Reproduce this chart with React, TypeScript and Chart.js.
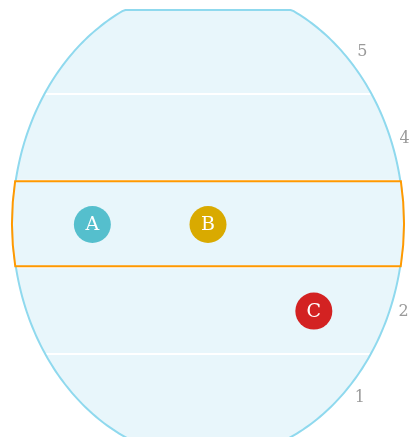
import React, { useEffect, useRef } from "react";
import { Chart, registerables } from "chart.js";

Chart.register(...registerables);

const pointNames = ["A", "B", "C"];
const xValues = [20.5, 50, 77];
const yValues = [3, 3, 2];
const pointColors = ["#55bfcd", "#d9aa00", "#d32222"];
const yTickValues = [1, 2, 3, 4, 5];
const yTickLabels = ["1", "2", "3", "4", "5"];
const gridValues = [1.5, 2.5, 3.5, 4.5];
const bandRange = [2.5, 3.5];

const FILL = "#e8f6fb";
const STROKE = "#8fd9ee";
const BAND = "#ff9900";
const TICK = "#9a9a9a";
const FONT = "'DejaVu Serif', serif";

function geom(chart: any) {
  const a = chart.chartArea;
  const cx = (a.left + a.right) / 2;
  const cy = (a.top + a.bottom) / 2 - 1.2;
  const rx = (a.right - a.left) / 2 - 0.5;
  const ry = 236;
  const clipTop = a.top + 2;
  const clipBottom = a.bottom;
  return { a, cx, cy, rx, ry, clipTop, clipBottom };
}

function shapePath(ctx: CanvasRenderingContext2D, g: any) {
  const n = 360;
  ctx.beginPath();
  for (let i = 0; i <= n; i++) {
    const t = (i / n) * Math.PI * 2;
    const x = g.cx + g.rx * Math.cos(t);
    let y = g.cy + g.ry * Math.sin(t);
    y = Math.max(g.clipTop, Math.min(g.clipBottom, y));
    if (i === 0) ctx.moveTo(x, y);
    else ctx.lineTo(x, y);
  }
  ctx.closePath();
}

const bgPlugin = {
  id: "ellipseBg",
  beforeDatasetsDraw(chart: any) {
    const ctx: CanvasRenderingContext2D = chart.ctx;
    const g = geom(chart);
    const yScale = chart.scales.y;
    ctx.save();
    shapePath(ctx, g);
    ctx.fillStyle = FILL;
    ctx.fill();

    // grid lines clipped to shape
    ctx.save();
    shapePath(ctx, g);
    ctx.clip();
    ctx.strokeStyle = "#ffffff";
    ctx.lineWidth = 2;
    gridValues.forEach((v) => {
      const y = yScale.getPixelForValue(v) - 0.5;
      ctx.beginPath();
      ctx.moveTo(g.a.left - 10, y);
      ctx.lineTo(g.a.right + 10, y);
      ctx.stroke();
    });
    ctx.restore();

    // outline
    shapePath(ctx, g);
    ctx.strokeStyle = STROKE;
    ctx.lineWidth = 2;
    ctx.stroke();

    // band
    const y1 = yScale.getPixelForValue(bandRange[1]);
    const y2 = yScale.getPixelForValue(bandRange[0]) - 1.5;
    const brx = g.rx + 0.5;
    const t1 = Math.asin((y1 - g.cy) / g.ry);
    const t2 = Math.asin((y2 - g.cy) / g.ry);
    const hw1 = brx * Math.cos(t1);
    const hw2 = brx * Math.cos(t2);
    ctx.beginPath();
    ctx.moveTo(g.cx - hw1, y1);
    ctx.lineTo(g.cx + hw1, y1);
    ctx.ellipse(g.cx, g.cy, brx, g.ry, 0, t1, t2, false);
    ctx.lineTo(g.cx - hw2, y2);
    ctx.ellipse(g.cx, g.cy, brx, g.ry, 0, Math.PI - t2, Math.PI - t1, false);
    ctx.closePath();
    ctx.fillStyle = FILL;
    ctx.fill();
    ctx.strokeStyle = BAND;
    ctx.lineWidth = 2;
    ctx.stroke();

    // tick labels along the outer edge
    ctx.fillStyle = TICK;
    ctx.font = "16px " + FONT;
    ctx.textAlign = "center";
    ctx.textBaseline = "middle";
    const lrx = g.rx + 13;
    const lry = g.ry + 19;
    yTickValues.forEach((v, i) => {
      const y = yScale.getPixelForValue(v) + 0.5;
      const d = (y - g.cy) / lry;
      const x = g.cx + lrx * Math.sqrt(Math.max(0, 1 - d * d));
      ctx.fillText(yTickLabels[i], x, y);
    });
    ctx.restore();
  },
  afterDatasetsDraw(chart: any) {
    const ctx: CanvasRenderingContext2D = chart.ctx;
    const meta = chart.getDatasetMeta(0);
    ctx.save();
    ctx.fillStyle = "#ffffff";
    ctx.font = "19px " + FONT;
    ctx.textAlign = "center";
    ctx.textBaseline = "middle";
    meta.data.forEach((el: any, i: number) => {
      ctx.fillText(pointNames[i], el.x, el.y + 0.5);
    });
    ctx.restore();
  },
};

export default function App() {
  const ref = useRef<HTMLCanvasElement>(null);
  useEffect(() => {
    if (!ref.current) return;
    const chart = new Chart(ref.current, {
      type: "scatter",
      data: {
        datasets: [
          {
            data: xValues.map((x, i) => ({ x, y: yValues[i] })),
            backgroundColor: pointColors,
            pointBackgroundColor: pointColors,
            pointBorderWidth: 0,
            borderWidth: 0,
            pointRadius: 18.5,
            pointHoverRadius: 18.5,
          },
        ],
      },
      options: {
        animation: false,
        responsive: false,
        devicePixelRatio: 1,
        layout: { autoPadding: false, padding: { left: 12, right: 20, top: 8, bottom: 8 } },
        plugins: { legend: { display: false }, tooltip: { enabled: false } },
        scales: {
          x: { type: "linear", min: 0, max: 100, display: false },
          y: { type: "linear", min: 0.5, max: 5.5, display: false },
        },
      },
      plugins: [bgPlugin],
    });
    return () => chart.destroy();
  }, []);
  return (
    <div
      style={{
        position: "absolute",
        left: 0,
        top: 0,
        width: 412,
        height: 437,
        overflow: "hidden",
      }}
    >
      <canvas ref={ref} width={424} height={449} style={{ display: "block" }} />
    </div>
  );
}
